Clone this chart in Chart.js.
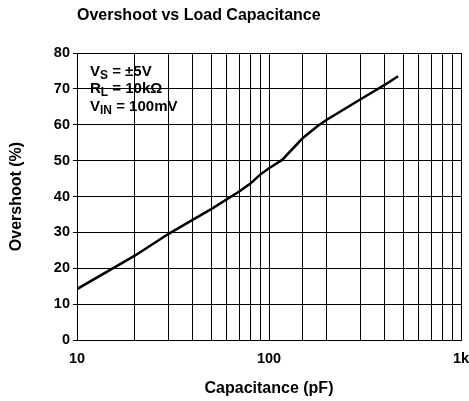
<!DOCTYPE html>
<html>
<head>
<meta charset="utf-8">
<script src="https://cdn.jsdelivr.net/npm/chart.js@4/dist/chart.umd.min.js"></script>
<style>
  html, body { margin: 0; padding: 0; background: #fff; }
  #wrap { width: 469px; height: 401px; }
</style>
</head>
<body>
<div id="wrap"><canvas id="overshootChart"></canvas></div>
<script>
// valeurs
const capacitance = [10, 20, 30, 40, 50, 70, 80, 90, 100, 117, 150, 180, 200, 300, 400, 470];
const overshoot = [14.2, 23.5, 29.6, 33.5, 36.5, 41.4, 43.6, 46.1, 47.9, 50.2, 56.3, 59.7, 61.4, 67.1, 71.1, 73.5];

const xTickLabels = { 10: '10', 100: '100', 1000: '1k' };

// conditions de test (texte + indice)
const condMain = ['V', 'R', 'V'];
const condSub = ['S', 'L', 'IN'];
const condRest = [' = \u00B15V', ' = 10k\u03A9', ' = 100mV'];

const FONT = "'Liberation Sans', Arial, sans-serif";

const conditionsPlugin = {
    id: 'conditions',
    afterDraw(chart) {
        const ctx = chart.ctx;
        const area = chart.chartArea;
        ctx.save();
        ctx.fillStyle = '#000';
        ctx.textBaseline = 'alphabetic';
        condMain.forEach((main, i) => {
            let x = area.left + 13;
            const y = area.top + 22.5 + i * 17.5;
            ctx.font = 'bold 15px ' + FONT;
            ctx.fillText(main, x, y);
            x += ctx.measureText(main).width;
            ctx.font = 'bold 12px ' + FONT;
            ctx.fillText(condSub[i], x, y + 3);
            x += ctx.measureText(condSub[i]).width;
            ctx.font = 'bold 15px ' + FONT;
            ctx.fillText(condRest[i], x, y);
        });
        ctx.restore();
    }
};

const ctx = document.getElementById('overshootChart').getContext('2d');
new Chart(ctx, {
    type: 'line',
    data: {
        datasets: [{
            data: capacitance.map((c, i) => ({ x: c, y: overshoot[i] })),
            borderColor: '#000',
            borderWidth: 2.5,
            pointRadius: 0,
            tension: 0
        }]
    },
    options: {
        responsive: true,
        maintainAspectRatio: false,
        animation: false,
        layout: { padding: 0 },
        plugins: {
            legend: { display: false },
            tooltip: { enabled: false },
            title: {
                display: true,
                text: 'Overshoot vs Load Capacitance',
                align: 'start',
                fullSize: false,
                color: '#000',
                font: { family: FONT, size: 16, weight: 'bold' },
                padding: { top: 6, bottom: 27.8 }
            }
        },
        scales: {
            x: {
                type: 'logarithmic',
                min: 10,
                max: 1000,
                afterFit(scale) {
                    scale.height = 61;
                    scale.paddingLeft = 0;
                    scale.paddingRight = 8;
                },
                grid: { color: '#000', lineWidth: 1, drawTicks: false },
                border: { color: '#000', width: 1 },
                ticks: {
                    autoSkip: false,
                    maxRotation: 0,
                    padding: 10,
                    color: '#000',
                    font: { family: FONT, size: 14.5, weight: 'bold' },
                    callback: value => xTickLabels[value] || ''
                },
                title: {
                    display: true,
                    text: 'Capacitance (pF)',
                    color: '#000',
                    font: { family: FONT, size: 16, weight: 'bold' },
                    padding: { top: 0, bottom: 3 }
                }
            },
            y: {
                min: 0,
                max: 80,
                afterFit(scale) { scale.width = 77; },
                grid: { color: '#000', lineWidth: 1, tickLength: 4 },
                border: { color: '#000', width: 1 },
                ticks: {
                    stepSize: 10,
                    padding: 3,
                    color: '#000',
                    font: { family: FONT, size: 14.5, weight: 'bold' }
                },
                title: {
                    display: true,
                    text: 'Overshoot (%)',
                    color: '#000',
                    font: { family: FONT, size: 16, weight: 'bold' },
                    padding: { top: 7, bottom: 0 }
                }
            }
        }
    },
    plugins: [conditionsPlugin]
});
</script>
</body>
</html>
